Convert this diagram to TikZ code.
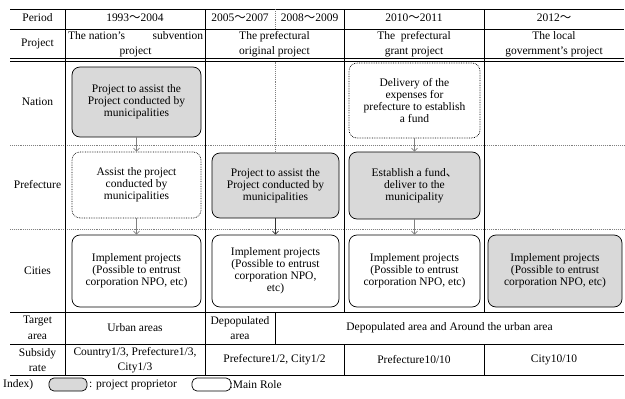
\documentclass[tikz,border=0pt]{standalone}
\usepackage{fontspec}
\setmainfont{Liberation Serif}
\newfontfamily\cjk{Noto Sans CJK JP}
\usetikzlibrary{arrows.meta}
\tikzset{>=latex}
\tikzstyle{rule} = [-, draw=black, line width=0.7pt]
\tikzstyle{rowline} = [-, draw=gray, densely dotted, line width=0.9pt]
\tikzstyle{role} = [rectangle, rounded corners=8pt, draw=black, line width=0.7pt, align=center, inner sep=1pt]
\tikzstyle{owner} = [role, fill=black!15]
\tikzstyle{helper} = [role, densely dotted]
\tikzstyle{cell} = [align=center, inner sep=0pt, font=\fontsize{11.5}{15.5}\selectfont]
\tikzstyle{flow} = [-{Straight Barb[length=3pt,width=6pt]}, draw=gray, line width=0.7pt]
\newcommand{\wave}{{\cjk ～}}

\begin{document}
\begin{tikzpicture}[x=1pt, y=-1pt, font=\fontsize{11.5}{12}\selectfont]
\useasboundingbox (0,0) rectangle (625,399);

% table rules
\draw [rule] (10,9) -- (624,9);
\draw [rule] (10,29) -- (624,29);
\draw [rule] (10,58.5) -- (624,58.5);
\draw [rule] (10,61.5) -- (624,61.5);
\draw [rowline] (10,145) -- (624,145);
\draw [rowline] (10,229) -- (624,229);
\draw [rule] (10,312) -- (624,312);
\draw [rule] (10,344) -- (624,344);
\draw [rule] (10,375) -- (624,375);
\draw [rule] (65,9) -- (65,375);
\draw [rule] (205,9) -- (205,375);
\draw [rule] (344,9) -- (344,312);
\draw [rule] (344,344) -- (344,375);
\draw [rule] (484,9) -- (484,312);
\draw [rule] (484,344) -- (484,375);
\draw [rowline] (275,9) -- (275,29);
\draw [rule] (275,312) -- (275,344);

% header
\node (Period) at (37.5,18) {Period};
\node (T1) at (135,18) {1993\wave2004};
\node (T2) at (240,18) {2005\wave2007};
\node (T3) at (309.5,18) {2008\wave2009};
\node (T4) at (414,18) {2010\wave2011};
\node (T5) at (554,18) {2012\wave};

\node (Proj) at (37.5,44) {Project};
\node [cell] (Proj1) at (135.5,44) {\makebox[135pt]{The nation's\hfill subvention}\\project};
\node [cell] (Proj2) at (274.5,44) {The prefectural\\original project};
\node [cell] (Proj3) at (414,44) {The \ prefectural\\grant project};
\node [cell] (Proj4) at (554,44) {The local\\government's project};

% rows
\node (Nation) at (37.5,102) {Nation};
\node (Pref) at (37.5,185) {Prefecture};
\node (Cities) at (37.5,271) {Cities};
\node [cell] (Target) at (37.5,328) {Target\\area};
\node [cell] (Rate) at (37.5,360) {Subsidy\\rate};

% boxes
\node [owner, minimum width=129pt, minimum height=70pt] (NatA) at (136.5,102) {Project to assist the\\Project conducted by\\municipalities};
\node [helper, minimum width=131pt, minimum height=75pt] (NatC) at (414.5,100.5) {Delivery of the\\expenses for\\prefecture to establish\\a fund};

\draw [rowline] (275,61.5) -- (275,153);

\node [helper, minimum width=129pt, minimum height=66pt] (PrefA) at (136.5,185) {Assist the project\\conducted by\\municipalities};
\node [owner, minimum width=127pt, minimum height=65pt] (PrefB) at (275.5,185.5) {Project to assist the\\Project conducted by\\municipalities};
\node [owner, minimum width=131pt, minimum height=67pt] (PrefC) at (414.5,185.5) {Establish a fund{\cjk 、}\\deliver to the\\municipality};

\node [role, minimum width=129pt, minimum height=72pt] (CityA) at (136.5,271) {Implement projects\\(Possible to entrust\\corporation NPO, etc)};
\node [role, minimum width=127pt, minimum height=72pt] (CityB) at (275.5,271) {Implement projects\\(Possible to entrust\\corporation NPO,\\etc)};
\node [role, minimum width=131pt, minimum height=72pt] (CityC) at (414.5,271) {Implement projects\\(Possible to entrust\\corporation NPO, etc)};
\node [owner, minimum width=134pt, minimum height=72pt] (CityD) at (555,271) {Implement projects\\(Possible to entrust\\corporation NPO, etc)};

\draw [flow] (NatA) -- (PrefA);
\draw [flow] (PrefA) -- (CityA);
\draw [flow, draw=black!80] (PrefB) -- (CityB);
\draw [flow] (NatC) -- (PrefC);
\draw [flow] (PrefC) -- (CityC);

% bottom rows
\node (Urban) at (135,328) {Urban areas};
\node [cell] (Depop) at (240,328) {Depopulated\\area};
\node (Around) at (449.5,328) {Depopulated area and Around the urban area};
\node [cell] (RateA) at (135,360) {Country1/3, Prefecture1/3,\\City1/3};
\node (RateB) at (274.5,360) {Prefecture1/2, City1/2};
\node (RateC) at (414,360) {Prefecture10/10};
\node (RateD) at (554,360) {City10/10};

% legend
\node [anchor=west, inner sep=0pt] (Index) at (3,385) {Index)};
\node [owner, rounded corners=5pt, minimum width=38pt, minimum height=13pt] (KeyOwner) at (68,384.5) {};
\node [anchor=west, inner sep=0pt] (KeyOwnerText) at (89,385) {: project proprietor};
\node [role, rounded corners=5pt, minimum width=39pt, minimum height=13pt] (KeyRole) at (211.5,384.5) {};
\node [anchor=west, inner sep=0pt] (KeyRoleText) at (229.5,385) {:Main Role};
\end{tikzpicture}
\end{document}
